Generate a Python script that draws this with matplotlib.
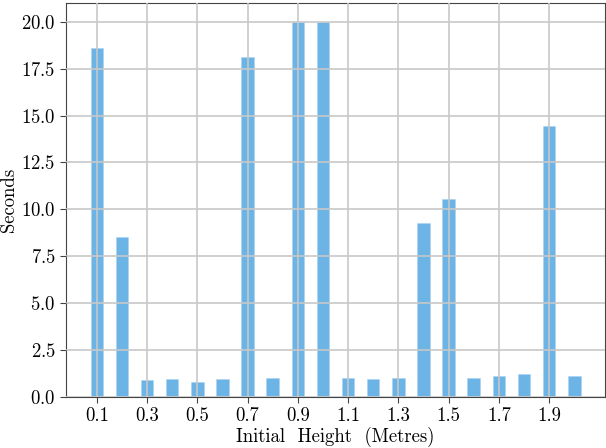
import matplotlib
matplotlib.use("Agg")
import matplotlib.pyplot as plt

heights = [0.1, 0.2, 0.3, 0.4, 0.5, 0.6, 0.7, 0.8, 0.9, 1.0,
           1.1, 1.2, 1.3, 1.4, 1.5, 1.6, 1.7, 1.8, 1.9, 2.0]
seconds = [18.6, 8.55, 0.9, 0.95, 0.8, 0.95, 18.1, 1.0, 20.0, 20.0,
           1.0, 0.95, 1.0, 9.3, 10.55, 1.0, 1.1, 1.25, 14.45, 1.1]
xticks = [0.1, 0.3, 0.5, 0.7, 0.9, 1.1, 1.3, 1.5, 1.7, 1.9]

plt.rcParams["font.family"] = "serif"
plt.rcParams["font.serif"] = ["cmr10"]
plt.rcParams["axes.formatter.use_mathtext"] = True

fig = plt.figure(figsize=(6.06, 4.48), dpi=100)
ax = fig.add_axes([66 / 606, 51 / 448, 539 / 606, 394 / 448])

ax.bar(heights, seconds, width=0.05, color="#3498db", alpha=0.72,
       edgecolor="#a9d2f0", linewidth=0.6)
ax.set_axisbelow(False)
ax.grid(True, color="#c8c8c8", linewidth=1.2)

ax.set_xticks(xticks)
ax.set_xticklabels([f"{t:.1f}" for t in xticks])
ax.set_xlabel("Initial  Height  (Metres)", fontsize=13.5, labelpad=1)
ax.set_ylabel("Seconds", fontsize=13.5, labelpad=2)
ax.tick_params(labelsize=13.5, color="#444444", length=4)
for s in ax.spines.values():
    s.set_color("#444444")

fig.savefig("out.png", dpi=100)
